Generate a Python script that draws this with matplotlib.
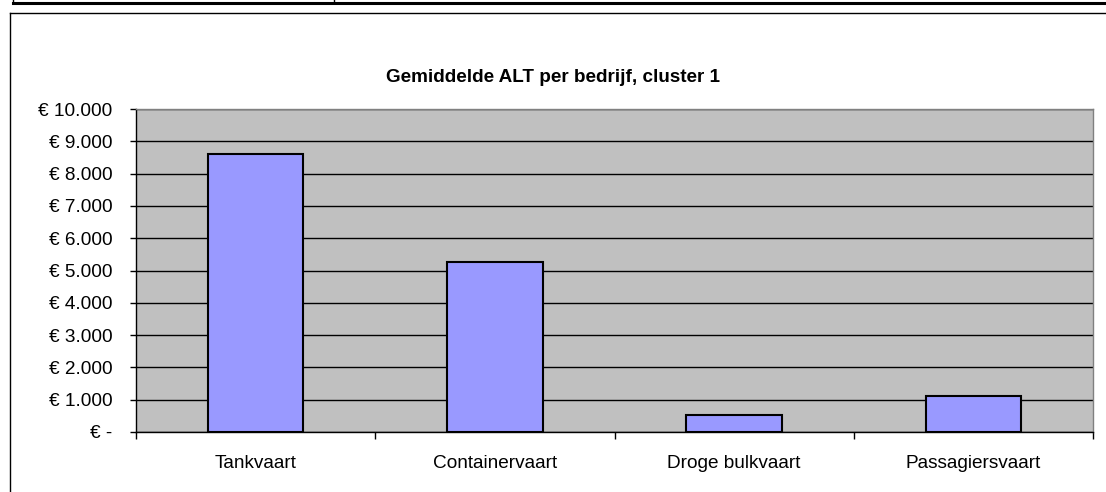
import matplotlib
matplotlib.use("Agg")
import matplotlib.pyplot as plt
from matplotlib.lines import Line2D
from matplotlib.ticker import FuncFormatter

categories = ["Tankvaart", "Containervaart", "Droge bulkvaart", "Passagiersvaart"]
values = [8610, 5270, 520, 1120]
yticks = [0, 1000, 2000, 3000, 4000, 5000, 6000, 7000, 8000, 9000, 10000]
title = "Gemiddelde ALT per bedrijf, cluster 1"

plt.rcParams['font.family'] = ['Liberation Sans', 'DejaVu Sans']

W, H = 1106, 492
fig = plt.figure(figsize=(W / 100, H / 100), dpi=100)
fig.patch.set_facecolor("white")

ax = fig.add_axes([136 / W, 1 - 432 / H, (1093 - 136) / W, (432 - 109) / H])
ax.set_facecolor("#C0C0C0")

x = range(len(categories))
ax.bar(x, values, width=0.4, color="#9999FF", edgecolor="black", linewidth=1.5, zorder=3)

ax.set_xlim(-0.5, len(categories) - 0.5)
ax.set_ylim(0, 10000)
ax.set_yticks(yticks)
ax.yaxis.grid(True, color="black", linewidth=1, zorder=1)
ax.set_axisbelow(True)


def euro(v, pos):
    if v == 0:
        return "€ -"
    return "€ " + f"{v:,.0f}".replace(",", ".")


ax.yaxis.set_major_formatter(FuncFormatter(euro))
ax.tick_params(axis="y", length=4, width=1, pad=13, labelsize=13.7, colors="black")

ax.set_xticks(list(x))
ax.set_xticklabels(categories)
ax.set_xticks([i - 0.5 for i in range(len(categories) + 1)], minor=True)
ax.tick_params(axis="x", which="major", length=0, pad=16.5, labelsize=13.7)
ax.tick_params(axis="x", which="minor", length=5, width=1, color="black")

for s in ["left", "bottom"]:
    ax.spines[s].set_color("black")
    ax.spines[s].set_linewidth(1)
for s in ["top", "right"]:
    ax.spines[s].set_color("#808080")
    ax.spines[s].set_linewidth(1)

fig.text(553 / W, 1 - 78 / H, title, ha="center", va="center",
         fontsize=13.6, fontweight="bold")

# chart area frame and the cut-off table row above it
def px_line(xs, ys, lw):
    fig.add_artist(Line2D([v / W for v in xs], [1 - v / H for v in ys],
                          transform=fig.transFigure, color="black", linewidth=lw))

px_line([10, W], [13, 13], 1.0)
px_line([10, 10], [13, H], 1.0)
px_line([13, W], [2.5, 2.5], 2.2)
px_line([13, 13], [0, 3], 1.0)
px_line([334, 334], [0, 3], 1.0)

fig.savefig("out.png", dpi=100)
